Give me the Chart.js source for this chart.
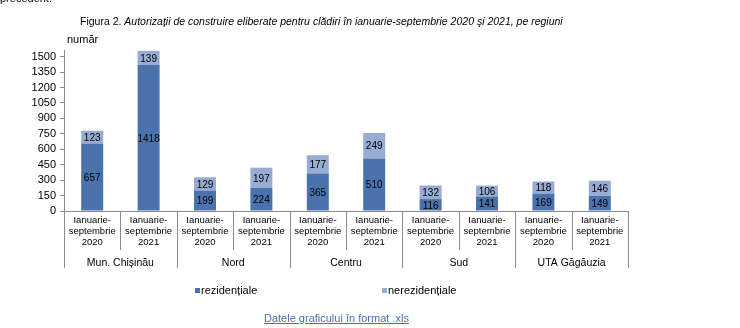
<!DOCTYPE html>
<html>
<head>
<meta charset="utf-8">
<script src="https://cdn.jsdelivr.net/npm/chart.js@4"></script>
<style>
  body { margin: 0; background: #fff; font-family: "Liberation Sans", Arial, sans-serif; }
  #wrap { position: relative; width: 740px; height: 328px; overflow: hidden; }
  #c { position: absolute; left: 0; top: 0; }
  .txt { position: absolute; white-space: nowrap; color: #000; }
  .mk { position: absolute; width: 5px; height: 5px; }
</style>
</head>
<body>
<div id="wrap">
  <canvas id="c" width="740" height="328"></canvas>
  <div class="txt" style="left:0;top:-8px;font-size:11px;">precedent.</div>
  <div class="txt" style="left:80px;top:15px;font-size:10.5px;">Figura 2. <i>Autorizaţii de construire eliberate pentru clădiri în ianuarie-septembrie 2020 şi 2021, pe regiuni</i></div>
  <div class="txt" style="left:67px;top:33px;font-size:11px;">număr</div>
  <div class="mk" style="left:195px;top:288px;background:#4a73ad;"></div>
  <div class="txt" style="left:201px;top:284px;font-size:11px;">rezidențiale</div>
  <div class="mk" style="left:382px;top:288px;background:#98abd3;"></div>
  <div class="txt" style="left:388px;top:284px;font-size:11px;">nerezidențiale</div>
  <div class="txt" style="left:264px;top:312px;font-size:11px;color:#4a6fb5;text-decoration:underline;">Datele graficului în format .xls</div>
</div>
<script>
const periods = [
  ['Ianuarie-', 'septembrie', '2020'],
  ['Ianuarie-', 'septembrie', '2021']
];
const regions = ['Mun. Chișinău', 'Nord', 'Centru', 'Sud', 'UTA Găgăuzia'];
const rezidentiale = [657, 1418, 199, 224, 365, 510, 116, 141, 169, 149];
const nerezidentiale = [123, 139, 129, 197, 177, 249, 132, 106, 118, 146];
const yTicks = [0, 150, 300, 450, 600, 750, 900, 1050, 1200, 1350, 1500];

const labels = [];
regions.forEach(() => periods.forEach(p => labels.push(p)));

// values written in the middle of each segment
const segmentLabels = {
  id: 'segmentLabels',
  afterDatasetsDraw(chart) {
    const ctx = chart.ctx;
    ctx.save();
    ctx.font = '10px "Liberation Sans", Arial, sans-serif';
    ctx.fillStyle = '#000';
    ctx.textAlign = 'center';
    ctx.textBaseline = 'middle';
    chart.data.datasets.forEach((ds, di) => {
      chart.getDatasetMeta(di).data.forEach((el, i) => {
        ctx.fillText(String(ds.data[i]), el.x, (el.y + el.base) / 2 + 1);
      });
    });
    ctx.restore();
  }
};

// separators under the x axis and region names
const groupAxis = {
  id: 'groupAxis',
  afterDraw(chart) {
    const ctx = chart.ctx;
    const x = chart.scales.x;
    const bottom = chart.chartArea.bottom;
    const n = labels.length;
    const w = (x.right - x.left) / n;
    ctx.save();
    ctx.strokeStyle = '#8c8c8c';
    ctx.lineWidth = 1;
    for (let i = 0; i <= n; i++) {
      const px = Math.round(x.left + i * w) + 0.5;
      const len = i % 2 === 0 ? 57 : 39;
      ctx.beginPath();
      ctx.moveTo(px, bottom);
      ctx.lineTo(px, bottom + len);
      ctx.stroke();
    }
    ctx.font = '10.5px "Liberation Sans", Arial, sans-serif';
    ctx.fillStyle = '#000';
    ctx.textAlign = 'center';
    ctx.textBaseline = 'middle';
    regions.forEach((r, g) => {
      ctx.fillText(r, x.left + (g * 2 + 1) * w, bottom + 52);
    });
    ctx.restore();
  }
};

new Chart(document.getElementById('c'), {
  type: 'bar',
  data: {
    labels: labels,
    datasets: [
      { label: 'rezidențiale', data: rezidentiale, backgroundColor: '#4a73ad' },
      { label: 'nerezidențiale', data: nerezidentiale, backgroundColor: '#98abd3' }
    ]
  },
  options: {
    responsive: false,
    animation: false,
    events: [],
    layout: { padding: { top: 50, left: 0, right: 112, bottom: 57 } },
    datasets: { bar: { barPercentage: 0.39, categoryPercentage: 1 } },
    plugins: { legend: { display: false }, tooltip: { enabled: false } },
    scales: {
      x: {
        stacked: true,
        grid: { display: false, drawTicks: false },
        border: { color: '#8c8c8c' },
        ticks: {
          autoSkip: false, maxRotation: 0, padding: 4, color: '#000',
          font: { family: '"Liberation Sans", Arial, sans-serif', size: 9.5, lineHeight: 1.15 }
        },
        afterFit: s => { s.height = 60; }
      },
      y: {
        stacked: true,
        min: 0,
        max: 1565,
        grid: { drawOnChartArea: false, tickLength: 4, color: '#8c8c8c' },
        border: { color: '#8c8c8c' },
        afterBuildTicks: s => { s.ticks = yTicks.map(v => ({ value: v })); },
        ticks: {
          autoSkip: false, padding: 4, color: '#000',
          font: { family: '"Liberation Sans", Arial, sans-serif', size: 11 },
          callback: v => String(v)
        },
        afterFit: s => { s.width = 64; }
      }
    }
  },
  plugins: [segmentLabels, groupAxis]
});
</script>
</body>
</html>
